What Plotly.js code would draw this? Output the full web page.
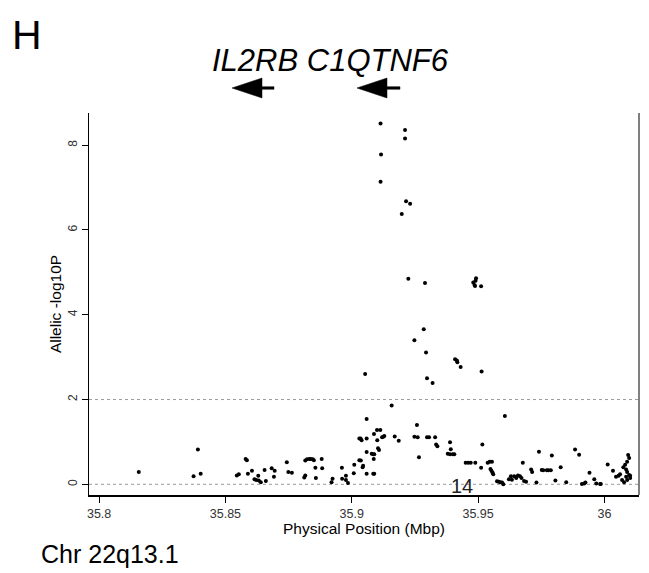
<!DOCTYPE html>
<html><head><meta charset="utf-8">
<script src="https://cdn.plot.ly/plotly-3.0.1.min.js"></script>
<style>html,body{margin:0;padding:0;background:#fff}#chart{width:649px;height:573px}</style>
</head><body><div id="chart"></div>
<script>
// Physical position (Mbp) of each SNP
const positionMbp = [
35.9114,35.9211,35.9211,35.9116,35.9114,35.9215,35.9231,35.9198,35.9224,35.9290,
35.9492,35.9481,35.9486,35.9490,35.9488,35.9512,35.9285,35.9248,35.9294,35.9409,
35.9416,35.9418,35.9431,35.9298,35.9320,35.9053,35.9514,
35.8157,35.8391,35.8374,35.8402,35.8545,35.8553,35.8580,35.8585,35.8589,35.8605,
35.8615,35.8622,35.8630,35.8632,35.8640,35.8655,35.8660,35.8683,35.8695,35.8692,
35.8743,35.8749,35.8763,35.8812,35.8816,35.8816,35.8823,35.8832,35.8838,35.8846,
35.8850,35.8858,35.8856,35.8881,35.8883,35.8920,35.8924,35.8961,35.8962,35.8977,
35.8977,35.8985,35.9010,35.9008,35.9030,35.9030,35.9036,35.9043,35.9045,35.9059,
35.9035,35.9039,35.9059,35.9059,35.9059,35.9085,35.9089,35.9079,35.9085,35.9089,
35.9087,35.9088,35.9100,35.9113,35.9101,35.9104,35.9108,35.9120,35.9125,35.9129,
35.9158,35.9170,35.9186,35.9258,35.9248,35.9261,35.9266,35.9298,35.9306,35.9330,
35.9334,35.9339,35.9389,35.9392,35.9380,35.9389,35.9400,35.9406,35.9451,35.9461,
35.9471,35.9489,35.9512,35.9517,35.9538,35.9546,35.9555,35.9549,35.9553,35.9557,
35.9560,35.9606,35.9575,35.9582,35.9588,35.9595,35.9600,35.9622,35.9630,35.9634,
35.9643,35.9651,35.9658,35.9666,35.9672,35.9677,35.9682,35.9690,35.9710,35.9714,
35.9731,35.9741,35.9752,35.9758,35.9772,35.9778,35.9788,35.9792,35.9806,35.9827,
35.9849,35.9884,35.9900,35.9911,35.9920,35.9925,35.9941,35.9960,35.9968,35.9983,
35.9986,36.0013,36.0034,36.0046,36.0056,36.0062,
36.0094,36.0098,36.0090,36.0082,36.0075,36.0086,36.0090,36.0098,36.0102,36.0070,
36.0078,36.0090,36.0102,36.0086
];
// Allelic -log10 P of each SNP
const allelicLog10P = [
8.51,8.36,8.16,7.78,7.14,6.68,6.62,6.38,4.85,4.75,
4.86,4.76,4.70,4.80,4.68,4.67,3.66,3.40,3.11,2.95,
2.92,2.88,2.77,2.50,2.39,2.60,2.66,
0.29,0.82,0.19,0.25,0.21,0.24,0.60,0.57,0.25,0.32,
0.12,0.10,0.20,0.09,0.05,0.34,0.08,0.38,0.32,0.18,
0.52,0.29,0.27,0.16,0.21,0.56,0.59,0.60,0.60,0.59,
0.57,0.15,0.39,0.60,0.38,0.05,0.13,0.39,0.13,0.20,
0.10,0.03,0.46,0.26,0.57,1.08,0.56,0.40,0.44,0.76,
1.08,1.04,1.08,1.54,0.25,0.25,0.25,0.72,0.71,0.71,
0.60,1.19,1.28,1.28,1.04,0.85,0.81,1.11,1.12,1.14,
1.86,1.13,1.03,1.40,1.12,1.11,0.64,1.11,1.11,1.11,
0.94,0.90,0.99,0.83,0.72,0.71,0.71,0.71,0.51,0.51,
0.51,0.51,0.39,0.94,0.51,0.53,0.53,0.36,0.32,0.28,
0.24,1.61,0.07,0.06,0.05,0.04,0.00,0.12,0.19,0.11,
0.19,0.15,0.21,0.19,0.15,0.51,0.08,0.06,0.35,0.29,
0.04,0.77,0.34,0.33,0.33,0.33,0.33,0.68,0.09,0.40,
0.05,0.82,0.70,0.01,0.02,0.04,0.27,0.12,0.02,0.01,
0.01,0.47,0.32,0.18,0.20,0.24,
0.69,0.62,0.53,0.46,0.40,0.35,0.29,0.22,0.15,0.10,
0.05,0.10,0.20,0.18
];
const xTickVals = [35.8, 35.85, 35.9, 35.95, 36];
const xTickText = ["35.8", "35.85", "35.9", "35.95", "36"];
const yTickVals = [0, 2, 4, 6, 8];
const yTickText = ["0", "2", "4", "6", "8"];
const thresholdLines = [2, 0];

// pixel helpers for the plot area (l=89, r=639, t=113, b=495)
const PL = 89, PR = 639, PT = 113, PB = 495;
const px = v => (v - PL) / (PR - PL);
const py = v => (PB - v) / (PB - PT);
function arrowPath(tip, tail, cy) {
  const hb = tip + 30, h = 10, t = 1.3;
  const pts = [[tip, cy], [hb, cy - h], [hb, cy - t], [tail, cy - t], [tail, cy + t], [hb, cy + t], [hb, cy + h]];
  return 'M' + pts.map(p => px(p[0]).toFixed(5) + ',' + py(p[1]).toFixed(5)).join(' L') + ' Z';
}

const shapes = thresholdLines.map(v => ({
  type: 'line', xref: 'paper', x0: 0, x1: 1, yref: 'y', y0: v, y1: v,
  line: {color: '#9a9a9a', width: 1, dash: 'dot'}, layer: 'below'
}));
shapes.push({type: 'line', xref: 'paper', x0: 1, x1: 1, yref: 'paper', y0: 0, y1: 1,
  line: {color: '#555', width: 1.5}});
shapes.push({type: 'path', xref: 'paper', yref: 'paper', path: arrowPath(232, 274, 88),
  fillcolor: '#000', line: {color: '#000', width: 0.5}});
shapes.push({type: 'path', xref: 'paper', yref: 'paper', path: arrowPath(357, 400, 88),
  fillcolor: '#000', line: {color: '#000', width: 0.5}});

const ff = 'Liberation Sans, Arial, sans-serif';
const layout = {
  width: 649, height: 573,
  margin: {l: PL, r: 649 - PR, t: PT, b: 573 - PB, pad: 0},
  paper_bgcolor: '#fff', plot_bgcolor: '#fff',
  showlegend: false,
  font: {family: ff, color: '#000'},
  xaxis: {
    range: [35.796, 36.0137], tickvals: xTickVals, ticktext: xTickText,
    ticks: 'outside', ticklen: 6, tickcolor: '#000', tickwidth: 1,
    showline: true, linecolor: '#000', linewidth: 1.5, showgrid: false, zeroline: false,
    tickfont: {family: ff, size: 12.5, color: '#333'},
    title: {text: 'Physical Position (Mbp)', font: {family: ff, size: 15.5, color: '#000'}, standoff: 0}
  },
  yaxis: {
    range: [-0.252, 8.76], tickvals: yTickVals, ticktext: yTickText, tickangle: -90,
    ticks: 'outside', ticklen: 6, tickcolor: '#000', tickwidth: 1,
    showline: true, linecolor: '#000', linewidth: 1.5, showgrid: false, zeroline: false,
    tickfont: {family: ff, size: 12, color: '#333'},
    title: {text: 'Allelic -log10P', font: {family: ff, size: 15.5, color: '#000'}, standoff: 0}
  },
  shapes: shapes,
  annotations: [
    {text: 'H', xref: 'paper', yref: 'paper', x: px(10), y: py(35), xanchor: 'left', yanchor: 'middle',
     showarrow: false, font: {family: ff, size: 41, color: '#000'}},
    {text: '<i>IL2RB C1QTNF6</i>', xref: 'paper', yref: 'paper', x: px(330), y: py(60), xanchor: 'center', yanchor: 'middle',
     showarrow: false, font: {family: ff, size: 31, color: '#000'}},
    {text: 'Chr 22q13.1', xref: 'paper', yref: 'paper', x: px(39), y: py(554), xanchor: 'left', yanchor: 'middle',
     showarrow: false, font: {family: ff, size: 25, color: '#000'}},
    {text: '14', xref: 'paper', yref: 'paper', x: px(462), y: py(486), xanchor: 'center', yanchor: 'middle',
     showarrow: false, font: {family: ff, size: 20, color: '#222'}}
  ]
};

Plotly.newPlot('chart', [{
  type: 'scatter', mode: 'markers', x: positionMbp, y: allelicLog10P,
  marker: {color: '#000', size: 4}, cliponaxis: false, hoverinfo: 'x+y'
}], layout, {staticPlot: true, displayModeBar: false});
</script></body></html>
